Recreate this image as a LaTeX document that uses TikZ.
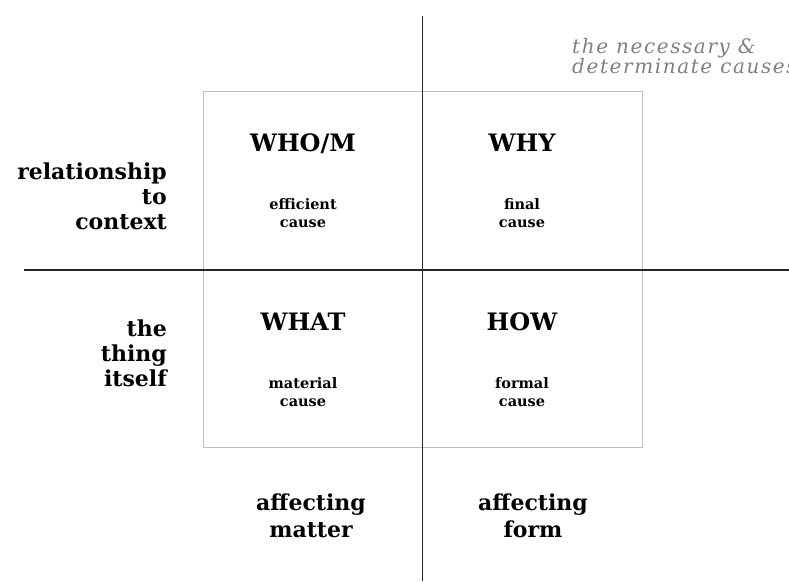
\documentclass[tikz,border=0pt]{standalone}
\usepackage{fontspec}
\setmainfont{DejaVu Serif}
\begin{document}
\begin{tikzpicture}[x=1pt,y=-1pt,
  axis/.style={line width=1.4pt,black!85},
  frame/.style={draw=black!25,line width=1pt},
  head/.style={font=\bfseries\fontsize{24}{28}\selectfont,anchor=base,inner sep=0pt},
  cause/.style={font=\bfseries\fontsize{14.5}{17.5}\selectfont,align=center,anchor=base,inner sep=0pt},
  side/.style={font=\bfseries\fontsize{22}{25}\selectfont,align=right,anchor=base east,inner sep=0pt},
  foot/.style={font=\bfseries\fontsize{22}{27}\selectfont,align=center,anchor=base,inner sep=0pt},
  note/.style={font=\itshape\fontsize{20}{20}\selectfont\addfontfeature{LetterSpace=8},align=left,anchor=base west,text=black!50,inner sep=0pt}]
\useasboundingbox (0,0) rectangle (789,581);
% outer frame of the four quadrants
\draw[frame] (203.5,91) rectangle (642,447);
% the two axes
\coordinate (vtop) at (422.5,16);
\coordinate (vbot) at (422.5,581);
\coordinate (hl) at (24,270);
\coordinate (hr) at (789,270);
\draw[axis] (vtop) -- (vbot);
\draw[axis] (hl) -- (hr);
% quadrant headings
\node[head] (whom) at (303,151) {WHO/M};
\node[head] (why)  at (522,151) {WHY};
\node[head] (what) at (303,330) {WHAT};
\node[head] (how)  at (522,330) {HOW};
% the four causes (anchored on the last line)
\node[cause] (eff) at (303,227) {efficient\\cause};
\node[cause] (fin) at (522,227) {final\\cause};
\node[cause] (mat) at (303,406) {material\\cause};
\node[cause] (frm) at (522,406) {formal\\cause};
% row labels
\node[side] (ctx) at (167,229) {relationship\\to\\context};
\node[side] (thing) at (167,386) {the\\thing\\itself};
% column labels
\node[foot] (am) at (311,537) {affecting\\matter};
\node[foot] (af) at (533,537) {affecting\\form};
% corner note
\node[note] (nec) at (572,73) {the necessary \&\\determinate causes};
\end{tikzpicture}
\end{document}
